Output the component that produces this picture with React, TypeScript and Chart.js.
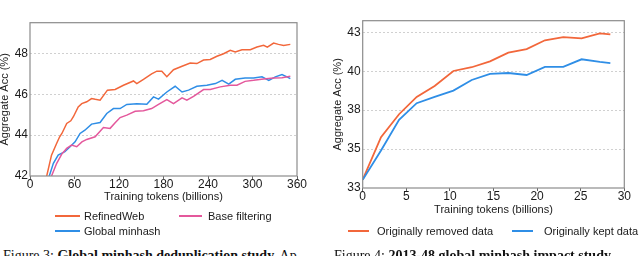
import React, { useEffect, useRef } from "react";
import { Chart, registerables } from "chart.js";
Chart.register(...registerables);

// ---- Figure 3 (left) data ----
const refinedX = [20, 29, 36, 40, 43, 49.5, 55, 58.5, 65, 69.8, 76.5, 83, 88, 94.5, 104.4, 114.8, 126, 139.5, 144, 153, 164, 171, 177.7, 184.5, 193.5, 205, 216, 225, 234, 243, 252, 261, 270, 276.8, 285.8, 297, 306, 315, 320, 328.5, 335, 342, 351];
const refinedY = [41.6, 43.02, 43.6, 43.92, 44.08, 44.57, 44.7, 44.9, 45.38, 45.54, 45.63, 45.79, 45.75, 45.71, 46.2, 46.23, 46.44, 46.65, 46.52, 46.73, 47.0, 47.13, 47.13, 46.86, 47.2, 47.37, 47.53, 47.5, 47.67, 47.7, 47.86, 47.98, 48.15, 48.07, 48.18, 48.18, 48.31, 48.39, 48.3, 48.5, 48.44, 48.39, 48.44];
const globalX = [22, 31.5, 38, 47, 54, 60.8, 67.5, 74, 83, 94.5, 103.5, 112.5, 121.5, 130.5, 144, 157.5, 166.5, 173.3, 184.5, 195.7, 205, 213.8, 225, 238.5, 250, 259, 268, 276.8, 290, 301.5, 312.8, 322, 330.8, 339.8, 346.5, 351];
const globalY = [41.55, 42.62, 43.02, 43.19, 43.43, 43.67, 44.08, 44.24, 44.54, 44.62, 45.06, 45.3, 45.3, 45.5, 45.54, 45.51, 45.87, 45.76, 46.11, 46.39, 46.11, 46.2, 46.39, 46.44, 46.52, 46.68, 46.49, 46.73, 46.8, 46.8, 46.85, 46.68, 46.85, 46.96, 46.85, 46.76];
const baseX = [24, 36, 42.8, 49.5, 56, 63, 70, 76.5, 87.8, 99, 108, 114.8, 121.5, 130.5, 141.8, 153, 164, 173.3, 184.5, 193.5, 205, 211.5, 220.5, 234, 243, 256.5, 270, 279, 290, 301.5, 315, 328.5, 339.8, 351];
const baseY = [41.55, 42.62, 43.07, 43.35, 43.51, 43.43, 43.67, 43.79, 43.92, 44.37, 44.33, 44.6, 44.86, 44.98, 45.17, 45.19, 45.3, 45.5, 45.74, 45.54, 45.82, 45.71, 45.9, 46.23, 46.23, 46.36, 46.44, 46.44, 46.63, 46.68, 46.75, 46.8, 46.81, 46.88];
const leftXTicks = [0, 60, 120, 180, 240, 300, 360];
const leftYTicks = [42, 44, 46, 48];

// ---- Figure 4 (right) data ----
const rightX = [0, 2.1, 4.17, 6.19, 8.25, 10.4, 12.5, 14.6, 16.7, 18.8, 20.9, 23.0, 25.1, 27.2, 28.4];
const removedY = [33.53, 36.27, 37.74, 38.85, 39.56, 40.52, 40.76, 41.14, 41.7, 41.93, 42.49, 42.7, 42.61, 42.94, 42.87];
const keptY = [33.53, 35.41, 37.38, 38.45, 38.85, 39.26, 39.94, 40.33, 40.39, 40.26, 40.78, 40.78, 41.27, 41.1, 41.03];
const rightXTicks = [0, 5, 10, 15, 20, 25, 30];
const rightYTicks = [33, 35.5, 38, 40.5, 43];

const ORANGE = "#f2673b";
const BLUE = "#2f8ee6";
const PINK = "#e4589c";
const SANS = "'Liberation Sans', Arial, Helvetica, sans-serif";
const SERIF = "'Liberation Serif', 'Times New Roman', serif";

const framePlugin = {
  id: "frame",
  afterDraw(chart: any) {
    const { ctx, chartArea: a } = chart;
    ctx.save();
    ctx.strokeStyle = "#8c8c8c";
    ctx.lineWidth = 1.2;
    ctx.strokeRect(a.left, a.top, a.right - a.left, a.bottom - a.top);
    ctx.restore();
  },
};

function pts(xs: number[], ys: number[]) {
  return xs.map((x, i) => ({ x, y: ys[i] }));
}

function makeOptions(o: any) {
  return {
    responsive: false,
    animation: false,
    layout: { padding: o.pad },
    plugins: { legend: { display: false }, tooltip: { enabled: false } },
    elements: { point: { radius: 0 }, line: { tension: 0 } },
    scales: {
      x: {
        type: "linear",
        min: o.xMin,
        max: o.xMax,
        afterBuildTicks: (s: any) => {
          s.ticks = o.xTicks.map((v: number) => ({ value: v }));
        },
        afterFit: (s: any) => {
          s.height = o.xAxisH;
        },
        grid: { display: true, drawOnChartArea: false, drawTicks: true, tickLength: 3, tickColor: "#666", tickWidth: 1 },
        border: { display: false },
        ticks: { padding: -2, color: "#1a1a1a", font: { family: SANS, size: 12 }, maxRotation: 0, autoSkip: false },
        title: {
          display: true,
          text: "Training tokens (billions)",
          color: "#1a1a1a",
          font: { family: SANS, size: 11 },
          padding: { top: 0, bottom: o.xTitlePad },
        },
      },
      y: {
        type: "linear",
        min: o.yMin,
        max: o.yMax,
        afterBuildTicks: (s: any) => {
          s.ticks = o.yTicks.map((v: number) => ({ value: v }));
        },
        afterFit: (s: any) => {
          s.width = o.yAxisW;
        },
        grid: {
          color: (c: any) => (c.tick && c.tick.value === o.yMin ? "rgba(0,0,0,0)" : "#c4c4c4"),
          lineWidth: 0.8,
          drawTicks: false,
        },
        border: { display: false, dash: [2, 2] },
        ticks: {
          padding: 2,
          color: "#1a1a1a",
          font: { family: SANS, size: 12 },
          callback: (v: any) => String(Math.trunc(Number(v))),
        },
        title: {
          display: true,
          text: "Aggregate Acc (%)",
          color: "#1a1a1a",
          font: { family: SANS, size: 11 },
          padding: { top: o.yTitlePad, bottom: 0 },
        },
      },
    },
  };
}

function LineChart(props: { width: number; height: number; datasets: any[]; opts: any }) {
  const ref = useRef<HTMLCanvasElement>(null);
  useEffect(() => {
    if (!ref.current) return;
    const chart = new Chart(ref.current, {
      type: "line",
      data: { datasets: props.datasets },
      options: makeOptions(props.opts) as any,
      plugins: [framePlugin],
    });
    return () => chart.destroy();
  }, []);
  return (
    <canvas
      ref={ref}
      width={props.width}
      height={props.height}
      style={{ width: props.width, height: props.height, display: "block" }}
    />
  );
}

function LegendItem(p: { x: number; y: number; len: number; color: string; label: string; gap: number }) {
  return (
    <>
      <div style={{ position: "absolute", left: p.x, top: p.y - 1, width: p.len, height: 2, background: p.color }} />
      <div
        style={{
          position: "absolute",
          left: p.x + p.len + p.gap,
          top: p.y - 8,
          height: 16,
          lineHeight: "16px",
          fontFamily: SANS,
          fontSize: 11,
          color: "#1a1a1a",
          whiteSpace: "nowrap",
        }}
      >
        {p.label}
      </div>
    </>
  );
}

export default function App() {
  const leftDatasets = [
    { label: "Base filtering", data: pts(baseX, baseY), borderColor: PINK, borderWidth: 1.5, fill: false },
    { label: "Global minhash", data: pts(globalX, globalY), borderColor: BLUE, borderWidth: 1.5, fill: false },
    { label: "RefinedWeb", data: pts(refinedX, refinedY), borderColor: ORANGE, borderWidth: 1.5, fill: false },
  ];
  const rightDatasets = [
    { label: "Originally kept data", data: pts(rightX, keptY), borderColor: BLUE, borderWidth: 1.8, fill: false },
    { label: "Originally removed data", data: pts(rightX, removedY), borderColor: ORANGE, borderWidth: 1.8, fill: false },
  ];
  return (
    <div
      style={{
        position: "fixed",
        left: 0,
        top: 0,
        width: 640,
        height: 256,
        overflow: "hidden",
        background: "#fff",
      }}
    >
      <div style={{ position: "absolute", left: 0, top: 0 }}>
        <LineChart
          width={320}
          height={205}
          datasets={leftDatasets}
          opts={{
            pad: { left: 0, top: 22.7, right: 23, bottom: 0 },
            xMin: 0,
            xMax: 360,
            yMin: 42,
            yMax: 49.5,
            xTicks: leftXTicks,
            yTicks: leftYTicks,
            xAxisH: 29,
            yAxisW: 30,
            xTitlePad: 1.4,
            yTitlePad: -1.6,
          }}
        />
      </div>
      <div style={{ position: "absolute", left: 320, top: 0 }}>
        <LineChart
          width={320}
          height={218}
          datasets={rightDatasets}
          opts={{
            pad: { left: 0, top: 20.7, right: 15.7, bottom: 0 },
            xMin: 0,
            xMax: 30,
            yMin: 33,
            yMax: 43.75,
            xTicks: rightXTicks,
            yTicks: rightYTicks,
            xAxisH: 30,
            yAxisW: 42.7,
            xTitlePad: 1.6,
            yTitlePad: 11.7,
          }}
        />
      </div>
      <LegendItem x={55} y={216} len={25} gap={4} color={ORANGE} label="RefinedWeb" />
      <LegendItem x={179} y={216} len={23} gap={6} color={PINK} label="Base filtering" />
      <LegendItem x={55} y={231} len={25} gap={4} color={BLUE} label="Global minhash" />
      <LegendItem x={348} y={231} len={21} gap={8} color={ORANGE} label="Originally removed data" />
      <LegendItem x={512} y={231} len={21} gap={11} color={BLUE} label="Originally kept data" />
      <div
        style={{
          position: "absolute",
          left: 3,
          top: 248,
          lineHeight: "16px",
          fontFamily: SERIF,
          fontSize: 14,
          color: "#111",
          whiteSpace: "nowrap",
        }}
      >
        Figure 3: <b>Global minhash deduplication study.</b> Ap-
      </div>
      <div
        style={{
          position: "absolute",
          left: 334,
          top: 248,
          lineHeight: "16px",
          fontFamily: SERIF,
          fontSize: 14,
          color: "#111",
          whiteSpace: "nowrap",
        }}
      >
        Figure 4: <b>2013-48 global minhash impact study.</b>
      </div>
    </div>
  );
}
